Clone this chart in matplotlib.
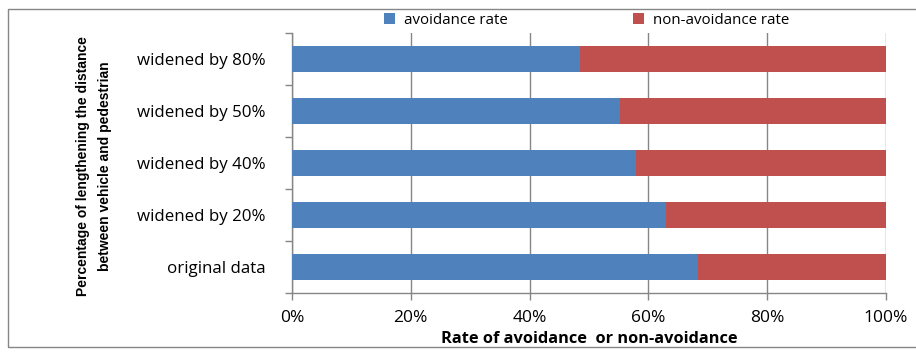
import matplotlib
matplotlib.use("Agg")
import matplotlib.pyplot as plt
from matplotlib.patches import Rectangle
from matplotlib.ticker import FixedLocator, PercentFormatter

categories = ["original data", "widened by 20%", "widened by 40%",
              "widened by 50%", "widened by 80%"]
avoidance = [0.683, 0.629, 0.579, 0.553, 0.485]
non_avoidance = [1 - v for v in avoidance]
series_names = ["avoidance rate", "non-avoidance rate"]
colors = ["#4F81BD", "#C0504D"]
x_ticks = [0, 0.2, 0.4, 0.6, 0.8, 1.0]

plt.rcParams["font.family"] = ["Open Sans", "DejaVu Sans"]
grey = "#868686"

fig = plt.figure(figsize=(9.16, 3.56), dpi=100)
ax = fig.add_axes([292 / 916, 1 - 293 / 356, (886 - 292) / 916, (293 - 33) / 356])

# outer chart border
fig.patches.append(Rectangle((8 / 916, 9 / 356), 1.2, 338 / 356,
                             transform=fig.transFigure, fill=False,
                             edgecolor=grey, linewidth=1.0))

y = range(len(categories))
bars_a = ax.barh(y, avoidance, height=0.5, color=colors[0], label=series_names[0], zorder=3)
bars_n = ax.barh(y, non_avoidance, left=avoidance, height=0.5, color=colors[1],
                 label=series_names[1], zorder=3)

ax.set_xlim(0, 1)
ax.set_ylim(-0.5, len(categories) - 0.5)
ax.xaxis.set_major_locator(FixedLocator(x_ticks))
ax.xaxis.set_major_formatter(PercentFormatter(1.0, decimals=0))
ax.set_yticks(list(y))
ax.set_yticklabels(categories)
ax.yaxis.set_minor_locator(FixedLocator([i - 0.5 for i in range(len(categories) + 1)]))
ax.tick_params(axis="y", which="major", length=0, pad=19, labelsize=12.2, colors="black")
ax.tick_params(axis="y", which="minor", length=5, color=grey, width=1)
ax.tick_params(axis="x", length=5, color=grey, width=1, labelsize=12.5, pad=7)

ax.grid(axis="x", color=grey, linewidth=1, zorder=0)
for side in ["top", "right"]:
    ax.spines[side].set_visible(False)
for side in ["left", "bottom"]:
    ax.spines[side].set_color(grey)
    ax.spines[side].set_linewidth(1)

ax.set_xlabel("Rate of avoidance  or non-avoidance", fontsize=11.8, fontweight="bold",
              labelpad=4)
fig.text(94 / 916, 1 - 166 / 356,
         "Percentage of lengthening the distance\nbetween vehicle and pedestrian",
         rotation=90, ha="center", va="center", fontsize=10, fontweight="bold",
         family=["Liberation Sans Narrow", "Liberation Sans", "DejaVu Sans"],
         linespacing=1.75)

# legend entries laid out along the top
fig.legend(handles=[bars_a], labels=[series_names[0]], loc="center left",
           bbox_to_anchor=(370 / 916, 1 - 20 / 356), frameon=False,
           fontsize=10.8, handlelength=0.75, handleheight=0.75, handletextpad=0.6)
fig.legend(handles=[bars_n], labels=[series_names[1]], loc="center left",
           bbox_to_anchor=(619 / 916, 1 - 20 / 356), frameon=False,
           fontsize=10.8, handlelength=0.75, handleheight=0.75, handletextpad=0.6)

fig.savefig("out.png", dpi=100)
